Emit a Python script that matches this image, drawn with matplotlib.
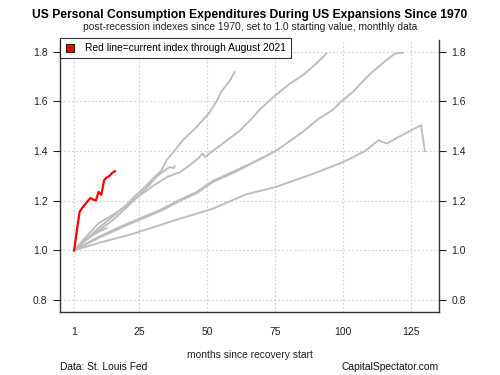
import matplotlib
matplotlib.use("Agg")
import matplotlib.pyplot as plt
from matplotlib.lines import Line2D

plt.rcParams['font.family'] = ['Liberation Sans', 'DejaVu Sans']

# Past expansions: month since recovery start and index value (start = 1.0)
exp_1970_m = [1, 5, 10, 15, 20, 25.5, 28.5, 31.6, 34, 36, 37.7, 38]
exp_1970_v = [1.0, 1.04, 1.08, 1.12, 1.17, 1.229, 1.262, 1.30, 1.32, 1.335, 1.332, 1.339]

exp_1975_m = [1, 5, 10, 16, 20, 23, 27, 30, 33, 35, 38, 41, 46, 50.5, 53.6, 55, 58.4, 60]
exp_1975_v = [1.0, 1.05, 1.11, 1.148, 1.18, 1.215, 1.255, 1.29, 1.32, 1.363, 1.403,
              1.444, 1.497, 1.551, 1.605, 1.638, 1.685, 1.719]

exp_1980_m = [1, 4, 7, 10, 13]
exp_1980_v = [1.0, 1.03, 1.055, 1.075, 1.09]

exp_1982_m = [1, 10, 20, 25, 30, 35.3, 40.1, 42.6, 46.8, 48.1, 49.3, 50.9, 54.8, 59.7,
              62.1, 65.7, 69.5, 74.3, 80.4, 85.2, 90.1, 93.8]
exp_1982_v = [1.0, 1.09, 1.18, 1.22, 1.26, 1.296, 1.316, 1.336, 1.372, 1.39, 1.376, 1.392,
              1.423, 1.464, 1.484, 1.524, 1.57, 1.618, 1.672, 1.706, 1.753, 1.793]

exp_1991_m = [1, 10, 20, 33, 40, 46, 52, 60, 68, 75.5, 85, 91, 96, 99, 103.5, 107, 110,
              115, 119, 122]
exp_1991_v = [1.0, 1.05, 1.10, 1.16, 1.20, 1.23, 1.275, 1.315, 1.36, 1.403, 1.477, 1.531,
              1.565, 1.598, 1.638, 1.679, 1.712, 1.759, 1.793, 1.796]

exp_2001_m = [1, 10, 20, 33, 40, 46, 52, 60, 68, 74]
exp_2001_v = [1.0, 1.055, 1.105, 1.165, 1.205, 1.235, 1.28, 1.32, 1.36, 1.395]

exp_2009_m = [1, 10, 22, 32, 40, 52, 64, 75, 89, 100, 108, 113, 116, 120, 125, 128.6, 130]
exp_2009_v = [1.0, 1.03, 1.065, 1.10, 1.128, 1.168, 1.225, 1.255, 1.309, 1.356, 1.40,
              1.444, 1.43, 1.455, 1.484, 1.504, 1.40]

# Current expansion (April 2020 onward)
cur_m = list(range(1, 17))
cur_v = [1.0, 1.08, 1.155, 1.172, 1.185, 1.199, 1.211, 1.205, 1.201, 1.236, 1.224,
         1.282, 1.294, 1.300, 1.312, 1.319]

x_ticks = [1, 25, 50, 75, 100, 125]
y_ticks = [0.8, 1.0, 1.2, 1.4, 1.6, 1.8]

past = [(exp_1970_m, exp_1970_v), (exp_1975_m, exp_1975_v), (exp_1980_m, exp_1980_v),
        (exp_1982_m, exp_1982_v), (exp_1991_m, exp_1991_v), (exp_2001_m, exp_2001_v),
        (exp_2009_m, exp_2009_v)]


def main():
    fig = plt.figure(figsize=(5, 3.75), dpi=100)
    ax = fig.add_axes([0.12, 0.168, 0.758, 0.725])

    for m, v in past:
        ax.plot(m, v, color="#BEBEBE", lw=1.4, solid_joinstyle="round")
    ax.plot(cur_m, cur_v, color="red", lw=1.6)

    ax.set_xlim(-4.2, 135.2)
    ax.set_ylim(0.752, 1.847)
    ax.set_xticks(x_ticks)
    ax.set_yticks(y_ticks)
    ax.set_yticklabels([f"{t:.1f}" for t in y_ticks])
    ax.grid(True, linestyle=(0, (1.5, 2)), color="#CFCFCF", lw=0.8)
    ax.set_axisbelow(True)

    for s in ["left", "right", "bottom"]:
        ax.spines[s].set_color("#333333")
        ax.spines[s].set_linewidth(1.0)
    ax.spines["top"].set_visible(False)

    ax.tick_params(axis="y", which="both", left=True, right=True, labelleft=True,
                   labelright=True, length=5, width=0.8, pad=4, labelsize=7.5,
                   colors="#222222")
    ax.tick_params(axis="x", length=0, pad=11, labelsize=7.5, colors="#222222")

    fig.text(0.5, 1 - 15 / 375, "US Personal Consumption Expenditures During US Expansions Since 1970",
             ha="center", va="center", fontsize=8.7, fontweight="bold")
    fig.text(0.5, 1 - 27 / 375, "post-recession indexes since 1970, set to 1.0 starting value, monthly data",
             ha="center", va="center", fontsize=7.4, color="#222222")
    fig.text(0.5, 1 - 355 / 375, "months since recovery start", ha="center", va="center",
             fontsize=7.4, color="#222222")
    fig.text(60 / 500, 1 - 367 / 375, "Data: St. Louis Fed", ha="left", va="center",
             fontsize=7.4, color="#111111")
    fig.text(439 / 500, 1 - 367 / 375, "CapitalSpectator.com", ha="right", va="center",
             fontsize=7.4, color="#111111")

    handle = Line2D([], [], linestyle="none", marker="s", markersize=6,
                    markerfacecolor="red", markeredgecolor="black", markeredgewidth=0.6)
    leg = ax.legend([handle], ["Red line=current index through August 2021"],
                    loc="upper left", bbox_to_anchor=(60 / 500, 1 - 38 / 375),
                    bbox_transform=fig.transFigure, fontsize=7.4, frameon=True,
                    fancybox=False, handlelength=1.0, handletextpad=0.9,
                    borderpad=0.5, borderaxespad=0)
    leg.get_frame().set_edgecolor("black")
    leg.get_frame().set_linewidth(0.8)

    fig.savefig("out.png", dpi=100)


if __name__ == '__main__':
    main()
